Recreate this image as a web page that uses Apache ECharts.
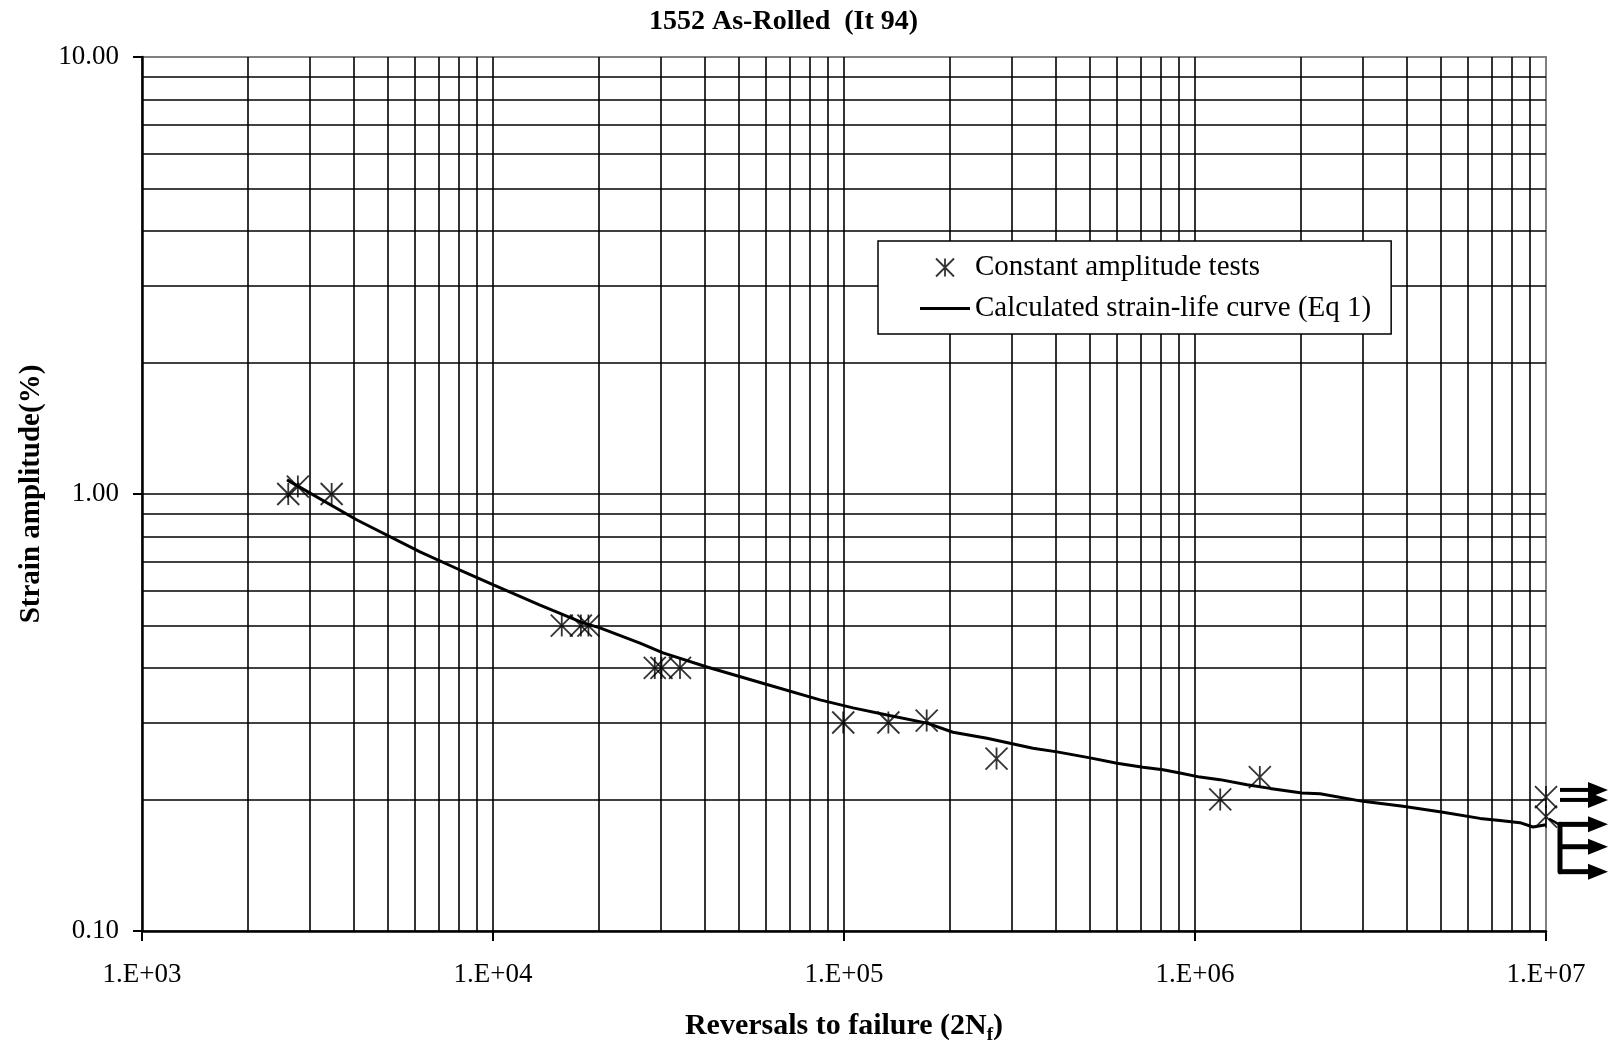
<!DOCTYPE html>
<html><head><meta charset="utf-8">
<script src="https://cdn.jsdelivr.net/npm/echarts@6/dist/echarts.min.js"></script>
<style>html,body{margin:0;padding:0;background:#fff}#c{width:1616px;height:1045px}</style>
</head><body><div id="c"></div>
<script>
// ---- data ----
const chartTitle = '1552 As-Rolled  (It 94)';
const xTitleMain = 'Reversals to failure (2N';
const xTitleSub = 'f';
const yTitle = 'Strain amplitude(%)';
const testsName = 'Constant amplitude tests';
const curveName = 'Calculated strain-life curve (Eq 1)';

const testsReversals = [2610, 2780, 3470, 15700, 17800, 18700, 28900, 30200, 34100, 99500, 133800, 172000, 272000, 1180000, 1530000, 10000000, 10000000];
const testsStrain    = [1.00, 1.04, 1.00, 0.50, 0.50, 0.50, 0.40, 0.40, 0.40, 0.30, 0.30, 0.303, 0.248, 0.200, 0.225, 0.2025, 0.1826];

const curveReversals = [2589, 4099, 6195, 8053, 10066, 13614, 18050, 20170, 26230, 30510, 40710, 60000, 85440, 106100, 132600, 172400, 204400, 255500, 345400, 404500, 502300, 599500, 711100, 810600, 906200, 1033000, 1178000, 1407000, 1636000, 2017000, 2271000, 3010000, 3913000, 5088000, 6485000, 7395000, 8432000, 9183000, 10000000];
const curveStrain    = [1.077, 0.872, 0.737, 0.670, 0.619, 0.557, 0.507, 0.494, 0.456, 0.433, 0.402, 0.367, 0.338, 0.324, 0.312, 0.299, 0.285, 0.276, 0.262, 0.257, 0.249, 0.242, 0.237, 0.234, 0.230, 0.225, 0.222, 0.216, 0.212, 0.207, 0.206, 0.198, 0.193, 0.187, 0.181, 0.179, 0.177, 0.173, 0.175];

// run-out arrows (tests that did not fail at 1E+07)
const runoutReversals = 10000000;
const runoutPairStrain = [0.2103, 0.1995];
const runoutGroupStrain = [0.1754, 0.1559, 0.1367];

const xMin = 1e3, xMax = 1e7, yMin = 0.1, yMax = 10;

// ---- grid line positions (log decades) ----
function logGrid(lo, hi) {
  const out = [];
  for (let d = lo; d < hi - 1e-12; d *= 10) {
    for (let m = 1; m <= 9; m++) {
      const v = +(d * m).toPrecision(6);
      if (v > lo * 1.0000001 && v < hi * 0.9999999) out.push(v);
    }
  }
  return out;
}
const gridX = logGrid(xMin, xMax);
const gridY = logGrid(yMin, yMax);

const FONT = 'Liberation Serif';
const STAR = 'path://M0,0L20,20M20,0L0,20M10,0L10,20';
const LINE_ICON = 'path://M0,0H50V3H0Z';

const chart = echarts.init(document.getElementById('c'), null, {renderer: 'canvas'});

const option = {
  animation: false,
  backgroundColor: '#fff',
  title: {
    text: chartTitle, left: 649, top: 8, padding: 0,
    textStyle: {fontFamily: FONT, fontSize: 28, fontWeight: 'bold', color: '#000'}
  },
  grid: {left: 142, right: 70, top: 57, bottom: 114, containLabel: false, outerBoundsMode: 'none',
         show: true, borderColor: '#808080', borderWidth: 2, backgroundColor: 'transparent'},
  legend: {
    orient: 'vertical', left: 878, top: 241,
    padding: [12, 20, 11, 42], itemGap: 12, itemWidth: 50, itemHeight: 18,
    borderColor: '#000', borderWidth: 1.5, backgroundColor: '#fff', borderRadius: 0,
    selectedMode: false,
    textStyle: {fontFamily: FONT, fontSize: 29, color: '#000'},
    data: [
      {name: testsName, icon: STAR, itemStyle: {color: 'transparent', borderColor: '#000', borderWidth: 1.8}},
      {name: curveName, icon: LINE_ICON, itemStyle: {color: '#000', borderWidth: 0}}
    ]
  },
  xAxis: {
    type: 'log', logBase: 10, min: xMin, max: xMax,
    name: '{a|' + xTitleMain + '}{s|' + xTitleSub + '}{a|)}',
    nameLocation: 'middle', nameGap: 78,
    nameTextStyle: {
      rich: {
        a: {fontFamily: FONT, fontSize: 30, fontWeight: 'bold', color: '#000', lineHeight: 34},
        s: {fontFamily: FONT, fontSize: 19, fontWeight: 'bold', color: '#000', lineHeight: 34, verticalAlign: 'bottom', padding: [0, 0, -2, 0]}
      }
    },
    axisLine: {show: true, lineStyle: {color: '#000', width: 2.5}},
    axisTick: {show: true, length: 10, lineStyle: {color: '#000', width: 2}},
    axisLabel: {
      margin: 30, fontFamily: FONT, fontSize: 27, color: '#000',
      formatter: v => '1.E+' + String(Math.round(Math.log10(v))).padStart(2, '0')
    },
    splitLine: {show: false}
  },
  yAxis: {
    type: 'log', logBase: 10, min: yMin, max: yMax,
    name: yTitle, nameLocation: 'middle', nameGap: 96, nameRotate: 90,
    nameTextStyle: {fontFamily: FONT, fontSize: 29, fontWeight: 'bold', color: '#000'},
    axisLine: {show: true, lineStyle: {color: '#000', width: 2.5}},
    axisTick: {show: true, length: 9, lineStyle: {color: '#000', width: 2}},
    axisLabel: {margin: 23, fontFamily: FONT, fontSize: 27, color: '#000', formatter: v => v.toFixed(2)},
    splitLine: {show: false}
  },
  series: [
    {
      name: testsName, type: 'scatter', z: 4,
      symbol: STAR, symbolSize: 22,
      itemStyle: {color: 'transparent', borderColor: '#000', borderWidth: 1.8},
      emphasis: {disabled: true},
      data: testsReversals.map((x, i) => [x, testsStrain[i]])
    },
    {
      name: curveName, type: 'line', z: 3,
      symbol: 'none', showSymbol: false, smooth: false,
      lineStyle: {color: '#000', width: 3},
      itemStyle: {color: '#000'},
      emphasis: {disabled: true},
      data: curveReversals.map((x, i) => [x, curveStrain[i]]),
      markLine: {
        z: 1, silent: true, symbol: ['none', 'none'],
        label: {show: false},
        lineStyle: {color: '#000', width: 1.6, type: 'solid'},
        emphasis: {disabled: true},
        data: gridX.map(v => ({xAxis: v})).concat(gridY.map(v => ({yAxis: v})))
      }
    }
  ]
};
chart.setOption(option);

// run-out arrows positioned through the chart's own scales
function arrowEls() {
  const els = [];
  const p = v => chart.convertToPixel({gridIndex: 0}, [runoutReversals, v]);
  const head = (x, y) => ({type: 'polygon', shape: {points: [[x + 42, y - 8], [x + 62, y], [x + 42, y + 8]]}, style: {fill: '#000'}, z: 10});
  runoutPairStrain.forEach(v => {
    const [x, y] = p(v);
    els.push({type: 'line', shape: {x1: x + 14, y1: y, x2: x + 44, y2: y}, style: {stroke: '#000', lineWidth: 4}, z: 10});
    els.push(head(x, y));
  });
  const pts = runoutGroupStrain.map(p);
  const x0 = pts[0][0];
  pts.forEach(([x, y]) => {
    els.push({type: 'line', shape: {x1: x + 13, y1: y, x2: x + 44, y2: y}, style: {stroke: '#000', lineWidth: 5}, z: 10});
    els.push(head(x, y));
  });
  els.push({type: 'polyline', shape: {points: [[x0 + 14, pts[0][1]], [x0 + 14, pts[pts.length - 1][1]]]}, style: {stroke: '#000', lineWidth: 5, lineCap: 'round'}, z: 10});
  const star = p(testsStrain[testsStrain.length - 1]);
  els.push({type: 'line', shape: {x1: star[0] + 3, y1: star[1] + 2, x2: x0 + 13, y2: pts[0][1]}, style: {stroke: '#000', lineWidth: 2.5}, z: 10});
  return els;
}
chart.setOption({graphic: {elements: arrowEls()}});
</script>
</body></html>
